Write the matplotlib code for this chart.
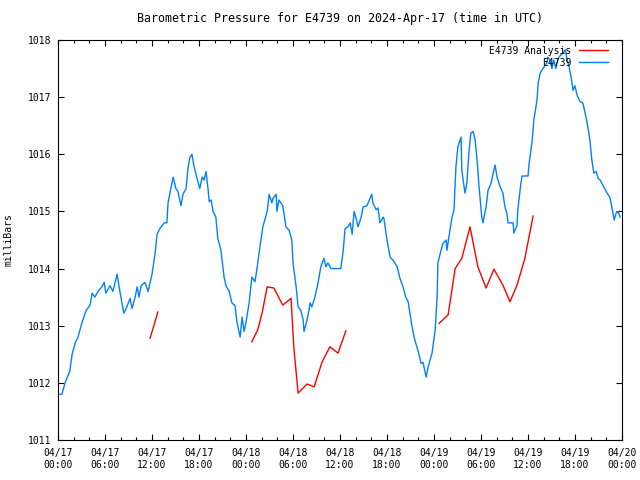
import numpy as np
import matplotlib
matplotlib.use("Agg")
import matplotlib.pyplot as plt
import matplotlib.dates as mdates
from datetime import datetime, timedelta

# hours after 2024-04-17 00:00 UTC, pressure in millibars
station_hours = [0.26, 0.5, 0.9, 1.5, 1.8, 2.2, 2.55, 3.05, 3.6, 4.1, 4.35, 4.7, 5.1, 5.6, 5.9,
                 6.1, 6.65, 7.0, 7.55, 7.9, 8.4, 8.7, 9.2, 9.45, 9.85, 10.1, 10.35, 10.6, 11.1,
                 11.5, 12.0, 12.4, 12.65, 13.0, 13.55, 13.9, 14.05, 14.4, 14.7, 15.05, 15.3,
                 15.7, 15.95, 16.35, 16.6, 16.85, 17.1, 17.35, 17.75, 18.1, 18.4, 18.65, 18.9,
                 19.15, 19.3, 19.55, 19.8, 20.15, 20.4, 20.8, 21.2, 21.45, 21.85, 22.2, 22.6,
                 22.85, 23.25, 23.5, 23.75, 24.0, 24.4, 24.75, 25.15, 25.4, 25.8, 26.15, 26.7,
                 26.95, 27.3, 27.45, 27.85, 27.95, 28.2, 28.7, 29.1, 29.5, 29.85, 30.0, 30.4,
                 30.65, 31.0, 31.3, 31.4, 31.8, 32.2, 32.4, 32.8, 33.2, 33.55, 33.95, 34.2,
                 34.45, 34.85, 36.1, 36.4, 36.65, 37.0, 37.3, 37.55, 37.8, 38.05, 38.3, 38.7,
                 38.95, 39.45, 39.85, 40.05, 40.2, 40.6, 40.85, 41.1, 41.5, 41.6, 42.0, 42.4,
                 42.75, 43.3, 43.65, 44.05, 44.4, 44.7, 45.2, 45.55, 45.95, 46.35, 46.6, 47.0,
                 47.25, 47.75, 48.15, 48.4, 48.5, 48.9, 49.15, 49.55, 49.65, 49.9, 50.3, 50.55,
                 50.8, 51.05, 51.45, 51.55, 51.95, 52.2, 52.45, 52.7, 53.0, 53.25, 53.5, 53.75,
                 54.1, 54.25, 54.65, 54.9, 55.3, 55.55, 55.8, 56.05, 56.45, 56.8, 57.05, 57.3,
                 57.45, 58.1, 58.2, 58.6, 58.7, 59.1, 59.25, 60.0, 60.15, 60.5, 60.75, 61.15,
                 61.3, 61.55, 61.9, 62.4, 62.55, 62.8, 63.05, 63.3, 63.55, 63.85, 64.2, 64.45,
                 64.75, 65.0, 65.25, 65.5, 65.75, 66.0, 66.25, 66.65, 67.0, 67.3, 67.55, 67.9,
                 68.15, 68.4, 68.7, 68.95, 69.2, 69.55, 70.1, 70.45, 70.7, 71.0, 71.25, 71.5,
                 71.75]
station_mb = [1011.8, 1011.8, 1012.0, 1012.2, 1012.5, 1012.7, 1012.8, 1013.05, 1013.27, 1013.36,
              1013.57, 1013.5, 1013.6, 1013.68, 1013.76, 1013.57, 1013.7, 1013.6, 1013.9, 1013.6,
              1013.22, 1013.3, 1013.48, 1013.3, 1013.5, 1013.68, 1013.5, 1013.7, 1013.76, 1013.6,
              1013.9, 1014.27, 1014.6, 1014.7, 1014.8, 1014.8, 1015.15, 1015.4, 1015.6, 1015.4,
              1015.35, 1015.1, 1015.3, 1015.4, 1015.76, 1015.95, 1016.0, 1015.8, 1015.58, 1015.4,
              1015.6, 1015.55, 1015.7, 1015.4, 1015.17, 1015.2, 1015.0, 1014.9, 1014.53, 1014.32,
              1013.85, 1013.7, 1013.6, 1013.4, 1013.35, 1013.06, 1012.8, 1013.15, 1012.9, 1013.06,
              1013.4, 1013.85, 1013.77, 1014.0, 1014.4, 1014.73, 1015.0, 1015.3, 1015.15, 1015.23,
              1015.3, 1015.0, 1015.2, 1015.1, 1014.73, 1014.67, 1014.5, 1014.1, 1013.68, 1013.33,
              1013.27, 1013.1, 1012.9, 1013.1, 1013.4, 1013.33, 1013.5, 1013.75, 1014.03, 1014.18,
              1014.03, 1014.1, 1014.0, 1014.0, 1014.3, 1014.7, 1014.73, 1014.8, 1014.6, 1015.0,
              1014.88, 1014.73, 1014.9, 1015.08, 1015.1, 1015.23, 1015.3, 1015.15, 1015.03, 1015.06,
              1014.8, 1014.9, 1014.88, 1014.5, 1014.2, 1014.15, 1014.03, 1013.83, 1013.68, 1013.5,
              1013.42, 1012.98, 1012.75, 1012.57, 1012.34, 1012.36, 1012.1, 1012.28, 1012.52,
              1012.93, 1013.5, 1014.1, 1014.32, 1014.44, 1014.5, 1014.32, 1014.55, 1014.9, 1015.03,
              1015.78, 1016.13, 1016.3, 1015.72, 1015.32, 1015.5, 1016.02, 1016.37, 1016.4, 1016.25,
              1015.9, 1015.43, 1014.9, 1014.8, 1015.08, 1015.37, 1015.5, 1015.67, 1015.81, 1015.6,
              1015.43, 1015.32, 1015.08, 1014.97, 1014.8, 1014.8, 1014.62, 1014.76, 1015.03, 1015.5,
              1015.62, 1015.62, 1015.85, 1016.2, 1016.6, 1016.95, 1017.25, 1017.42, 1017.5, 1017.6,
              1017.7, 1017.65, 1017.5, 1017.65, 1017.5, 1017.68, 1017.74, 1017.77, 1017.83, 1017.65,
              1017.53, 1017.35, 1017.12, 1017.2, 1017.04, 1016.92, 1016.9, 1016.72, 1016.55, 1016.25,
              1015.9, 1015.67, 1015.7, 1015.58, 1015.55, 1015.46, 1015.32, 1015.25, 1015.08, 1014.85,
              1014.97, 1015.0, 1014.9]

# analysis runs, NaN marks a gap between runs
analysis_hours = [11.75, 12.75, np.nan,
                  24.75, 25.5, 26.05, 26.7, 27.55, 28.7, 29.75, 30.1, 30.65, 31.8, 32.7, 33.7,
                  34.7, 35.75, 36.75, np.nan,
                  48.65, 49.8, 50.7, 51.55, 52.6, 53.6, 54.65, 55.65, 56.8, 57.7, 58.6, 59.6, 60.65]
analysis_mb = [1012.78, 1013.24, np.nan,
               1012.72, 1012.93, 1013.22, 1013.68, 1013.66, 1013.36, 1013.48, 1012.63, 1011.82,
               1011.98, 1011.93, 1012.36, 1012.63, 1012.52, 1012.91, np.nan,
               1013.04, 1013.19, 1014.0, 1014.18, 1014.73, 1014.03, 1013.66, 1013.99, 1013.71,
               1013.42, 1013.71, 1014.18, 1014.92]

start = datetime(2024, 4, 17)


def to_num(hours):
    # matplotlib date numbers, keeping NaN gaps
    return [mdates.date2num(start + timedelta(hours=float(h))) if not np.isnan(h) else np.nan
            for h in hours]


plt.rcParams['font.family'] = ['DejaVu Sans Mono']
plt.rcParams['font.size'] = 7

fig = plt.figure(figsize=(6.4, 4.8), dpi=100)
ax = fig.add_axes([58 / 640, 40 / 480, 564 / 640, 400 / 480])

ax.plot(to_num(analysis_hours), analysis_mb, color='#ff0000', lw=1.0, label='E4739 Analysis')
ax.plot(to_num(station_hours), station_mb, color='#0080ff', lw=1.0, label='E4739')

ax.set_xlim(mdates.date2num(start), mdates.date2num(start + timedelta(hours=72)))
ax.set_ylim(1011, 1018)
ax.set_yticks(range(1011, 1019))

ax.xaxis.set_major_locator(mdates.HourLocator(byhour=[0, 6, 12, 18]))
ax.xaxis.set_minor_locator(mdates.HourLocator(byhour=range(0, 24, 2)))
ax.xaxis.set_major_formatter(mdates.DateFormatter('%m/%d\n%H:%M'))

ax.tick_params(which='both', direction='in', top=True, right=True, width=0.8)
ax.tick_params(which='major', length=4.5)
ax.tick_params(which='minor', length=2.5)
ax.tick_params(axis='x', pad=6)
ax.tick_params(axis='y', pad=5)
for s in ax.spines.values():
    s.set_linewidth(0.8)

ax.set_ylabel('milliBars', labelpad=10)
ax.set_title('Barometric Pressure for E4739 on 2024-Apr-17 (time in UTC)', pad=13)

ax.legend(loc='upper right', bbox_to_anchor=(1 - 8 / 564, 1.0), frameon=False,
          markerfirst=False, handlelength=3.0, borderaxespad=0.2, labelspacing=0.2,
          handletextpad=0.8)

fig.savefig('out.png', dpi=100)
